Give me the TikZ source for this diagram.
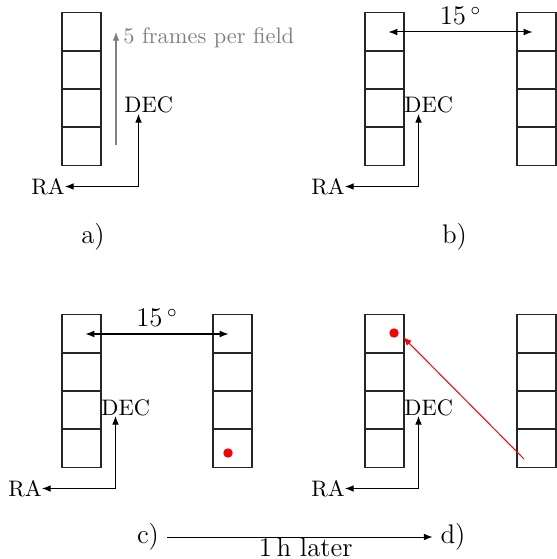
\documentclass[tikz,border=0pt]{standalone}
\usetikzlibrary{arrows.meta}
\newcommand\mkcol[3]{\foreach \i in {1,...,4}{\node[cell] (#1\i) at (#2,{#3+(\i-1)*38}) {};}}
\newcommand\mkaxes[3]{%
  \coordinate (#1o) at ({#2+14.5},#3);
  \node[lbl, anchor=base west] (#1dec) at (#2,{#3-73.5}) {DEC};
  \node[lbl, anchor=east] (#1ra) at ({#2-59},#3) {RA};
  \draw[conn, <->] (#1ra.east) -| (#1o |- #1dec.south);
}
\begin{document}
\begin{tikzpicture}[x=0.4464pt,y=-0.4464pt,
  >={Latex[length=3.9pt,width=3pt]},
  cell/.style={draw=black!85, line width=0.5pt, minimum width=17.41pt, minimum height=17.41pt, inner sep=0pt},
  conn/.style={line width=0.45pt},
  lbl/.style={inner sep=0pt, font=\normalsize},
  panel/.style={font=\large},
  reddot/.style={circle, fill=red, inner sep=0pt, minimum size=4.2pt},
]
\useasboundingbox (0,0) rectangle (557,559);

% ---- a)
\mkcol{a}{81.5}{32}
\mkaxes{a}{124}{186.5}
\coordinate (gs) at (116,145);
\coordinate (ge) at (116,32);
\draw[conn, gray, ->] (gs) -- (ge);
\node[lbl, gray, anchor=base west] (frames) at (123,44) {5 frames per field};
\node[panel] (la) at (93,237) {a)};

% ---- b)
\mkcol{bl}{384.5}{32}
\mkcol{br}{536.5}{32}
\mkaxes{b}{404}{186.5}
\draw[conn, <->, shorten <=1.8pt, shorten >=1.8pt] (bl1.center) -- (br1.center)
  node[midway, above, inner sep=3pt, font=\large] (angb) {$15\,^\circ$};
\node[panel] (lb) at (454.5,237) {b)};

% ---- c)
\mkcol{cl}{81.5}{334}
\mkcol{cr}{232.5}{334}
\mkaxes{c}{101}{488.5}
\draw[conn, <->, shorten <=1.8pt, shorten >=1.8pt] (cl1.center) -- (cr1.center)
  node[midway, above, inner sep=3pt, font=\large] (angc) {$15\,^\circ$};
\node[reddot] (dotc) at (228,453) {};
\node[panel] (lc) at (148,537) {c)};

% ---- d)
\mkcol{dl}{384.5}{334}
\mkcol{dr}{536.5}{334}
\mkaxes{d}{404}{488.5}
\node[reddot] (dotd) at (394,333) {};
\coordinate (rs) at (524,459);
\coordinate (re) at (403,337);
\draw[conn, red, ->] (rs) -- (re);
\node[panel] (ld) at (453,537) {d)};

% ---- time arrow
\draw[conn, ->] (lc) -- (ld)
  node[midway, below, inner sep=0.3pt, font=\large, xshift=2.7pt] (later) {1\,h later};
\end{tikzpicture}
\end{document}
